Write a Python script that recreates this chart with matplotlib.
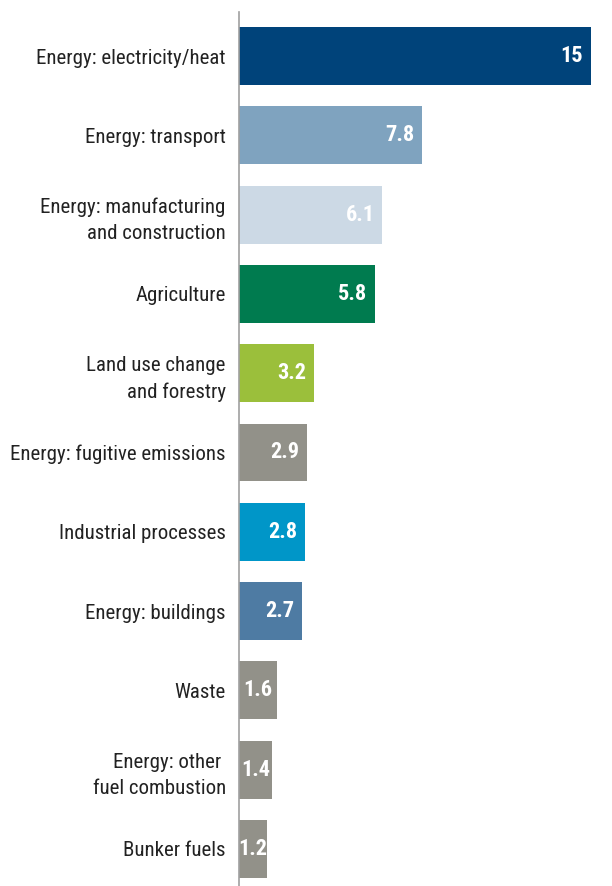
import matplotlib
matplotlib.use('Agg')
import matplotlib.pyplot as plt
from matplotlib import font_manager

# Data
categories = [
    'Energy: electricity/heat',
    'Energy: transport',
    'Energy: manufacturing\nand construction',
    'Agriculture',
    'Land use change\nand forestry',
    'Energy: fugitive emissions',
    'Industrial processes',
    'Energy: buildings',
    'Waste',
    'Energy: other \nfuel combustion',
    'Bunker fuels',
]
values = [15, 7.8, 6.1, 5.8, 3.2, 2.9, 2.8, 2.7, 1.6, 1.4, 1.2]
value_labels = ['15', '7.8', '6.1', '5.8', '3.2', '2.9', '2.8', '2.7', '1.6', '1.4', '1.2']
colors = ['#00437a', '#7fa3bf', '#ccd9e5', '#007b4f', '#9bbf3b', '#929189',
          '#0096c8', '#4e7ba3', '#929189', '#929189', '#929189']


def pick_font():
    """Use a condensed face if one is installed"""
    names = {f.name for f in font_manager.fontManager.ttflist}
    for name in ['Roboto Condensed', 'Liberation Sans Narrow', 'Roboto']:
        if name in names:
            return name
    return 'DejaVu Sans'


font = pick_font()
plt.rcParams['font.family'] = [font, 'DejaVu Sans']

fig = plt.figure(figsize=(6.12, 8.86), dpi=100)
ax = fig.add_axes([239 / 612, 0, (591 - 239) / 612, (886 - 12) / 886])

y = list(range(len(values)))
ax.barh(y, values, height=0.73, color=colors)

ax.set_xlim(0, 15)
ax.set_ylim(len(values) - 1 + 0.467, -0.555)

ax.set_yticks(y)
ax.set_yticklabels(categories, fontsize=15, color='#222222', ha='right',
                   linespacing=1.5)
ax.tick_params(axis='y', length=0, pad=9.5)
ax.set_xticks([])

for side in ['top', 'right', 'bottom']:
    ax.spines[side].set_visible(False)
ax.spines['left'].set_color('#a0a0a0')
ax.spines['left'].set_linewidth(1.2)

# Value labels inside the bar ends; centred when the bar is too short
fig.canvas.draw()
renderer = fig.canvas.get_renderer()
px_per_unit = ax.transData.transform((1, 0))[0] - ax.transData.transform((0, 0))[0]
for i, (v, lab) in enumerate(zip(values, value_labels)):
    t = ax.annotate(lab, xy=(v, i), xytext=(-5.5, 0), textcoords='offset points',
                    ha='right', va='center', color='white', fontsize=16,
                    fontweight='bold')
    w = t.get_window_extent(renderer).width
    bar_px = v * px_per_unit
    if bar_px < w + 12:
        t.remove()
        ax.text(v / 2, i, lab, ha='center', va='center', color='white',
                fontsize=16, fontweight='bold')

fig.savefig('out.png', dpi=100, facecolor='white')
